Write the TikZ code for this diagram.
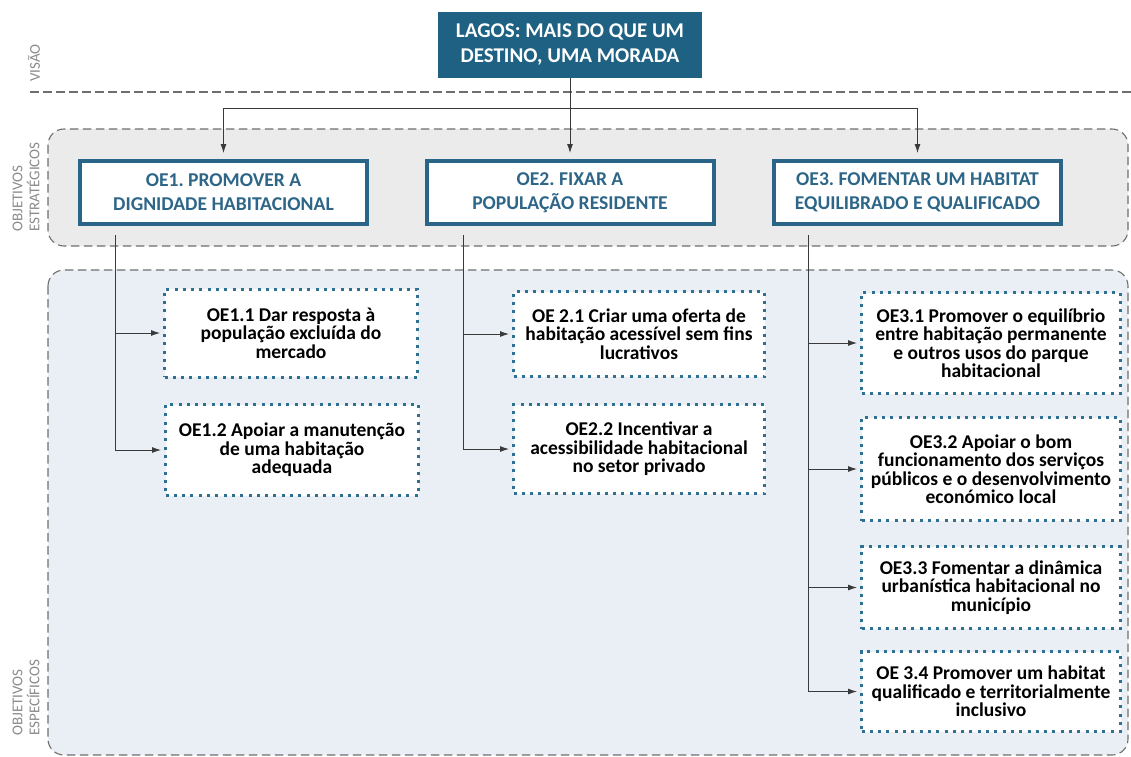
\documentclass[tikz,border=0pt]{standalone}
\usepackage{fontspec}
\setmainfont{Carlito}
\usetikzlibrary{arrows.meta}
\frenchspacing

\definecolor{visionblue}{HTML}{1E6183}
\definecolor{oeblue}{HTML}{2A6486}
\definecolor{oetext}{HTML}{2E6688}
\definecolor{subblue}{HTML}{2F6F91}
\definecolor{bandline}{HTML}{6E6E6E}
\definecolor{stratgray}{HTML}{EBEBEB}
\definecolor{specblue}{HTML}{EAEFF5}
\definecolor{linegray}{HTML}{3A3A3A}
\definecolor{labelgray}{HTML}{8A8A8A}

\begin{document}
\begin{tikzpicture}[x=1pt, y=-1pt,
		band/.style={draw=bandline, dash pattern=on 8.5pt off 4.5pt, line width=1.1pt, rounded corners=16pt},
		vision/.style={fill=visionblue, text=white, font=\fontsize{21}{25}\selectfont\bfseries, minimum width=264pt, minimum height=66pt, align=center, inner sep=0pt},
		oebox/.style={draw=oeblue, line width=4pt, fill=white, text=oetext, font=\fontsize{19.6}{24}\selectfont\bfseries, minimum width=287pt, minimum height=63pt, align=center, inner sep=0pt},
		subbox/.style={draw=subblue, line width=3pt, dash pattern=on 3pt off 5.3pt, fill=white, font=\fontsize{19.5}{18.5}\selectfont\bfseries, align=center, inner sep=0pt},
		arrow/.style={-{Latex[length=9pt, width=6pt]}, line width=0.9pt, draw=linegray},
		sidelabel/.style={rotate=90, anchor=west, text=labelgray, font=\fontsize{15}{17}\selectfont, align=left, inner sep=0pt},
	]
	\useasboundingbox (0,0) rectangle (1131,756);

	% bands
	\draw[band, fill=stratgray] (48,129) rectangle (1128,246);
	\draw[band, fill=specblue] (48,270) rectangle (1128,755);
	\draw[draw=bandline, dash pattern=on 8.5pt off 4.5pt, line width=1.1pt] (30,92) -- (1131,92);

	% side labels
	\node[sidelabel] (visao) at (34,82) {VISÃO};
	\node[sidelabel] (estrat) at (26,232) {OBJETIVOS\\ESTRATÉGICOS};
	\node[sidelabel] (especif) at (26,736) {OBJETIVOS\\ESPECÍFICOS};

	% vision and strategic objectives
	\node[vision] (vision) at (570,45) {LAGOS: MAIS DO QUE UM\\DESTINO, UMA MORADA};
	\node[oebox] (oe1) at (223.5,192.5) {OE1. PROMOVER A\\DIGNIDADE HABITACIONAL};
	\node[oebox] (oe2) at (570,192.5) {OE2. FIXAR A\\POPULAÇÃO RESIDENTE};
	\node[oebox] (oe3) at (917.5,192.5) {OE3. FOMENTAR UM HABITAT\\EQUILIBRADO E QUALIFICADO};

	\coordinate (hub) at (570,108);
	\draw[arrow, shorten >=6pt] (vision) -- (oe2);
	\draw[arrow, shorten >=6pt] (hub) -| (oe1.north);
	\draw[arrow, shorten >=6pt] (hub) -| (oe3.north);

	% specific objectives
	\node[subbox, minimum width=253pt, minimum height=88pt] (s11) at (291,333) {OE1.1 Dar resposta à\\população excluída do\\mercado};
	\node[subbox, minimum width=253pt, minimum height=91pt] (s12) at (292,450) {OE1.2 Apoiar a manutenção\\de uma habitação\\adequada};
	\node[subbox, minimum width=251pt, minimum height=85pt] (s21) at (639,334) {OE 2.1 Criar uma oferta de\\habitação acessível sem fins\\lucrativos};
	\node[subbox, minimum width=251pt, minimum height=89pt] (s22) at (639,449) {OE2.2 Incentivar a\\acessibilidade habitacional\\no setor privado};
	\node[subbox, minimum width=259pt, minimum height=101pt] (s31) at (991,343) {OE3.1 Promover o equilíbrio\\entre habitação permanente\\e outros usos do parque\\habitacional};
	\node[subbox, minimum width=259pt, minimum height=103pt] (s32) at (991,469) {OE3.2 Apoiar o bom\\funcionamento dos serviços\\públicos e o desenvolvimento\\económico local};
	\node[subbox, minimum width=259pt, minimum height=82pt] (s33) at (991,587.5) {OE3.3 Fomentar a dinâmica\\urbanística habitacional no\\município};
	\node[subbox, minimum width=259pt, minimum height=80pt] (s34) at (991,691.5) {OE 3.4 Promover um habitat\\qualificado e territorialmente\\inclusivo};

	\coordinate (t1) at (115,235);
	\coordinate (t2) at (463,235);
	\coordinate (t3) at (808,235);
	\draw[arrow, shorten >=3pt] (t1) |- (s11.west);
	\draw[arrow, shorten >=3pt] (t1) |- (s12.west);
	\draw[arrow, shorten >=3pt] (t2) |- (s21.west);
	\draw[arrow, shorten >=3pt] (t2) |- (s22.west);
	\draw[arrow, shorten >=3pt] (t3) |- (s31.west);
	\draw[arrow, shorten >=3pt] (t3) |- (s32.west);
	\draw[arrow, shorten >=3pt] (t3) |- (s33.west);
	\draw[arrow, shorten >=3pt] (t3) |- (s34.west);
\end{tikzpicture}
\end{document}
